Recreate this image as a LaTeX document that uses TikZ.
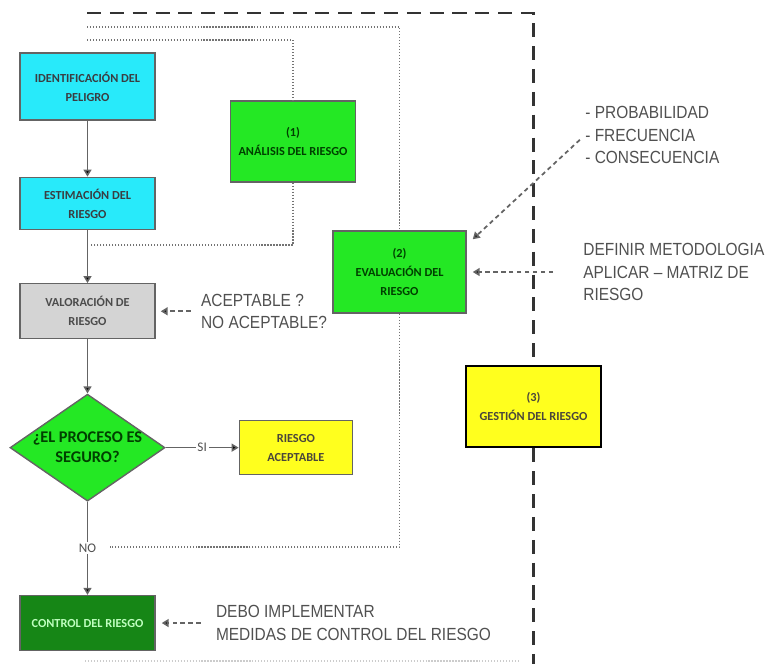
\documentclass[tikz,border=0pt]{standalone}
\usepackage{fontspec}
\setmainfont{Carlito}
\newfontfamily\notefont[FakeStretch=0.88]{Liberation Sans}
\usetikzlibrary{arrows.meta,positioning,shapes.geometric}
\definecolor{boxcyan}{RGB}{40,234,250}
\definecolor{boxgreen}{RGB}{36,232,36}
\definecolor{boxgray}{RGB}{212,212,212}
\definecolor{boxyellow}{RGB}{255,255,30}
\definecolor{boxdark}{RGB}{22,134,22}
\definecolor{linegray}{RGB}{100,100,100}
\definecolor{notegray}{RGB}{80,80,80}

\begin{document}
\begin{tikzpicture}[
  x=0.02cm, y=-0.02cm,
  box/.style={draw=linegray,line width=0.8pt,align=center,inner sep=2pt,
    font=\bfseries\fontsize{7}{10.8}\selectfont,minimum width=2.7cm},
  cbox/.style={box,fill=boxcyan,text=black!75!cyan!60!black},
  gbox/.style={box,fill=boxgreen,text=green!25!black},
  graybox/.style={box,fill=boxgray,text=black!70},
  ybox/.style={box,fill=boxyellow,text=black!70!yellow!60!black},
  dkbox/.style={box,fill=boxdark,text=green!25!white},
  dia/.style={diamond,draw=linegray,line width=0.8pt,fill=boxgreen,align=center,
    aspect=1.45,inner sep=-0.15cm,minimum width=3.1cm,minimum height=2.14cm,
    font=\bfseries\fontsize{9.3}{11.4}\selectfont,text=green!25!black},
  note/.style={font=\notefont\fontsize{10}{12.8}\selectfont,text=notegray,
    align=left,inner sep=0pt},
  lbl/.style={fill=white,inner sep=1pt,font=\fontsize{7.5}{8}\selectfont,text=notegray},
  arr/.style={draw=linegray,line width=0.9pt,-{Triangle[length=4pt,width=4.5pt,fill=black]}},
  darr/.style={arr,line width=1pt,dash pattern=on 2.5pt off 2pt},
  grp/.style={draw=black!55,densely dotted,line width=0.7pt},
  mgmt/.style={draw=black!80,line width=1.6pt,dash pattern=on 8pt off 5pt},
]
  \useasboundingbox (0,0) rectangle (766,664);

  % main column
  \node[cbox,minimum height=1.34cm] (ident) at (87.5,86.5) {IDENTIFICACIÓN DEL\\PELIGRO};
  \node[cbox,minimum height=1.04cm,below=1.12cm of ident] (estim) {ESTIMACIÓN DEL\\RIESGO};
  \node[graybox,minimum height=1.1cm,below=1.06cm of estim] (valor) {VALORACIÓN DE\\RIESGO};
  \node[dia,below=1.08cm of valor] (seguro) {¿EL PROCESO ES\\SEGURO?};
  \node[dkbox,minimum height=1.1cm,below=1.86cm of seguro] (control) {CONTROL DEL RIESGO};
  \node[ybox,minimum width=2.26cm,minimum height=1.08cm,right=1.46cm of seguro] (acept) {RIESGO\\ACEPTABLE};

  % the three stages
  \node[gbox,minimum width=2.5cm,minimum height=1.62cm] (analisis) at (293,141.5) {(1)\\ANÁLISIS DEL RIESGO};
  \node[gbox,minimum width=2.66cm,minimum height=1.64cm] (eval) at (399.5,272) {(2)\\EVALUACIÓN DEL\\RIESGO};
  \node[ybox,draw=black,line width=1.6pt,minimum height=1.62cm] (gestion) at (533.5,406.5) {(3)\\GESTIÓN DEL RIESGO};

  % frames
  \draw[grp] (87,40) -| (analisis.north);
  \draw[grp] (analisis.south) |- (90,245);
  \draw[grp] (87,27) -| (eval.north);
  \draw[grp] (eval.south) |- (110,547);
  \draw[mgmt] (87,13) -| (gestion.north);
  \draw[mgmt] (gestion.south) -- (gestion.south |- 0,664);
  \draw[grp,draw=black!20] (85,661) -- (520,661);

  % notes
  \node[note,anchor=west] (probs) at (585,135) {- PROBABILIDAD\\- FRECUENCIA\\- CONSECUENCIA};
  \node[note,anchor=west] (metodo) at (583,272) {DEFINIR METODOLOGIA\\APLICAR – MATRIZ DE\\RIESGO};
  \node[note,right=0.9cm of valor] (aceptq) {ACEPTABLE ?\\NO ACEPTABLE?};
  \node[note,right=1.2cm of control] (debo) {DEBO IMPLEMENTAR\\MEDIDAS DE CONTROL DEL RIESGO};

  % flow
  \draw[arr] (ident) -- (estim);
  \draw[arr] (estim) -- (valor);
  \draw[arr] (valor) -- (seguro);
  \draw[arr] (seguro) -- node[lbl]{SI} (acept);
  \draw[arr] (seguro) -- node[lbl]{NO} (control);

  \draw[darr,shorten <=4pt] (probs.west) -- ([shift={(6,9)}]eval.north east);
  \draw[darr,shorten <=0.6cm,shorten >=0.12cm] (metodo.west) -- (eval.east);
  \draw[darr,shorten <=0.2cm,shorten >=0.1cm] (aceptq.west) -- (valor.east);
  \draw[darr,shorten <=0.3cm,shorten >=0.12cm] (debo.west) -- (control.east);
\end{tikzpicture}
\end{document}
